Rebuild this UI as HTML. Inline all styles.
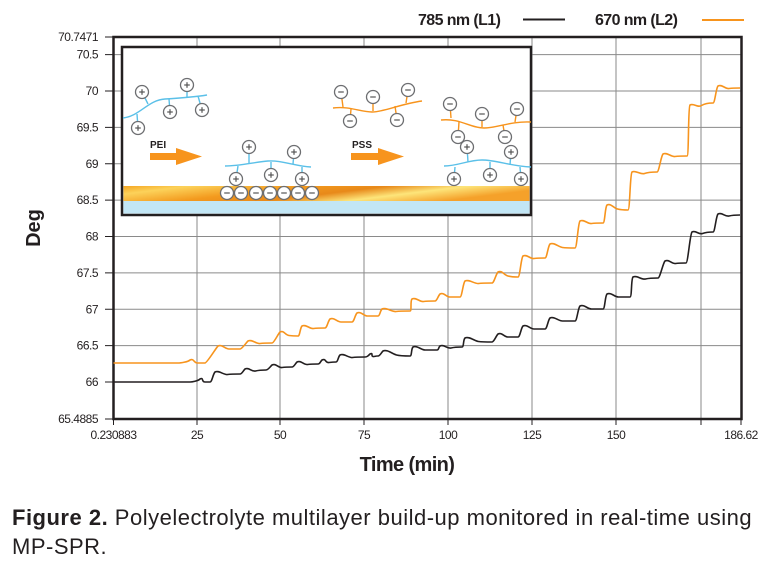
<!DOCTYPE html>
<html><head><meta charset="utf-8">
<style>
body{margin:0;background:#fff;width:775px;height:569px;overflow:hidden;font-family:"Liberation Sans",sans-serif;}
svg{position:absolute;left:0;top:0}
.cap{position:absolute;left:12px;top:503px;font-size:22px;line-height:29px;color:#231f20;width:775px;letter-spacing:0.5px;white-space:nowrap}
</style></head><body>
<svg width="775" height="569" viewBox="0 0 775 569" id="s">
<defs>
<linearGradient id="gold" x1="0" y1="0" x2="1" y2="0.3">
<stop offset="0" stop-color="#f5a623"/><stop offset="0.15" stop-color="#fcd25a"/><stop offset="0.4" stop-color="#f39a1e"/><stop offset="0.6" stop-color="#e8891a"/><stop offset="0.78" stop-color="#fde57a"/><stop offset="1" stop-color="#f5a12a"/>
</linearGradient>
</defs>
<g stroke="#8a8a8a" stroke-width="1" fill="none" id="grid"></g>
<g font-size="12" fill="#231f20" text-anchor="end" id="ylab" letter-spacing="-0.5"></g>
<g font-size="12" fill="#231f20" text-anchor="middle" id="xlab" letter-spacing="-0.5"></g>
<rect x="113.5" y="37" width="628" height="382" fill="none" stroke="#231f20" stroke-width="2.5"/>
<path id="orange" fill="none" stroke="#f7941d" stroke-width="1.6"/>
<path id="black" fill="none" stroke="#231f20" stroke-width="1.6"/>
<rect x="122" y="47" width="409" height="168" fill="#fff" stroke="#231f20" stroke-width="2.5"/>
<rect x="123.5" y="186" width="406" height="15" fill="url(#gold)"/>
<rect x="123.5" y="201" width="406" height="12.5" fill="#c2e6f5"/>
<g id="inset" stroke-width="1.4" fill="none"></g>
<text x="150" y="148" font-size="10" font-weight="bold" fill="#231f20">PEI</text>
<text x="352" y="148" font-size="10" font-weight="bold" fill="#231f20">PSS</text>
<polygon points="150,153 176,153 176,148 202,156.5 176,165 176,160 150,160" fill="#f7941d"/>
<polygon points="351,153 378,153 378,148 404,156.5 378,165 378,160 351,160" fill="#f7941d"/>
<text x="418" y="25" font-size="16" font-weight="bold" fill="#231f20" letter-spacing="-0.6">785 nm (L1)</text>
<line x1="523" y1="19.5" x2="565" y2="19.5" stroke="#231f20" stroke-width="2"/>
<text x="595" y="25" font-size="16" font-weight="bold" fill="#231f20" letter-spacing="-0.6">670 nm (L2)</text>
<line x1="702" y1="20" x2="744" y2="20" stroke="#f7941d" stroke-width="2"/>
<text x="407" y="471" font-size="20" font-weight="bold" fill="#231f20" text-anchor="middle" letter-spacing="-0.6">Time (min)</text>
<text transform="translate(40,228) rotate(-90)" font-size="20" font-weight="bold" fill="#231f20" text-anchor="middle">Deg</text>
</svg>
<div class="cap"><b>Figure 2.</b> Polyelectrolyte multilayer build-up monitored in real-time using<br>MP-SPR.</div>
<script>
const NS="http://www.w3.org/2000/svg";
function el(p,t,a,txt){const e=document.createElementNS(NS,t);for(const k in a)e.setAttribute(k,a[k]);if(txt!==undefined)e.textContent=txt;p.appendChild(e);return e;}
const grid=document.getElementById('grid'),yl=document.getElementById('ylab'),xl=document.getElementById('xlab');
const Y=v=>382-(v-66)*72.75;
[66.5,67,67.5,68,68.5,69,69.5,70,70.5].forEach(v=>el(grid,'line',{x1:113,x2:741,y1:Y(v),y2:Y(v)}));
[197,280,364,448,532,616,701].forEach(x=>el(grid,'line',{x1:x,x2:x,y1:37,y2:419}));
[[70.7471,37],[70.5,Y(70.5)],[70,Y(70)],[69.5,Y(69.5)],[69,Y(69)],[68.5,Y(68.5)],[68,Y(68)],[67.5,Y(67.5)],[67,Y(67)],[66.5,Y(66.5)],[66,Y(66)],[65.4885,419]].forEach(a=>{
 el(yl,'text',{x:98,y:a[1]+4},String(a[0]));el(grid,'line',{x1:105,x2:113,y1:a[1],y2:a[1],stroke:'#231f20'});});
[['0.230883',113.5],['25',197],['50',280],['75',364],['100',448],['125',532],['150',616],['186.62',741]].forEach(a=>el(xl,'text',{x:a[1],y:439},a[0]));
[113.5,197,280,364,448,532,616,701,741].forEach(x=>el(grid,'line',{x1:x,x2:x,y1:419,y2:425,stroke:'#231f20'}));
function series(pl){let d=`M${pl[0][0]},${pl[0][1]} L${pl[0][2]},${pl[0][3]}`;
 for(let i=1;i<pl.length;i++){const [xs,ys,xe,ye]=pl[i];const pe=pl[i-1];const px=pe[2],py=pe[3];
  d+=` C${px+2},${py} ${xs-2},${ys+1} ${xs},${ys-1}`;
  const m=(xs+xe)/2;d+=` C${xs+4},${ys-3} ${m-4},${ys+2} ${m},${(ys+ye)/2+1} S${xe-3},${ye} ${xe},${ye}`;}
 return d;}
const blk=[[113.5,382,190,382],[200,380,210,382],[215,373,240,374],[245,370,266,370],[272,366,292,367],[297,363,318,364],[322,361,336,362],[340,356,365,357],[370,355,378,356],[383,352,410,356],[413,348,437,350],[440,347,462,347],[465,339,492,342],[498,335,518,337],[523,327,545,329],[550,319,575,321],[580,307,603,309],[607,295,630,297],[633,278,658,278],[665,262,686,263],[692,233,713,232],[718,215,740,215]];
const org=[[113.5,363,178,363],[190,361,205,363],[218,347,240,349],[248,342,272,343],[280,333,298,336],[302,327,325,328],[330,320,352,322],[357,314,378,316],[382,310,410,311],[412,300,435,301],[440,295,460,297],[465,282,492,283],[498,273,518,277],[523,257,545,258],[550,245,575,248],[580,222,603,223],[607,206,628,210],[632,173,657,172],[663,155,687,156],[690,106,713,103],[718,87,740,88]];
document.getElementById('black').setAttribute('d',series(blk));
document.getElementById('orange').setAttribute('d',series(org));
const ins=document.getElementById('inset');
const BL='#5bc0e8',OR='#f7941d';
function chain(d,c){el(ins,'path',{d:d,stroke:c});}
function ion(x,y,sign,ax,ay,c){if(ax!==undefined)el(ins,'line',{x1:x,y1:y,x2:ax,y2:ay,stroke:c});
 el(ins,'circle',{cx:x,cy:y,r:6.5,fill:'#fff',stroke:'#6d6e71','stroke-width':1.3});
 el(ins,'line',{x1:x-2.8,y1:y,x2:x+2.8,y2:y,stroke:'#555','stroke-width':1.2});
 if(sign>0)el(ins,'line',{x1:x,y1:y-2.8,x2:x,y2:y+2.8,stroke:'#555','stroke-width':1.2});}
chain('M123,118 C140,116 148,100 165,99 S195,97 207,95',BL);
ion(142,92,1,148,104,BL);ion(187,85,1,187,97,BL);ion(170,112,1,169,99,BL);ion(202,110,1,198,96,BL);ion(138,128,1,137,114,BL);
chain('M225,166 C240,166 255,162 268,161 S295,166 311,167',BL);
ion(249,147,1,249,163,BL);ion(294,152,1,293,164,BL);ion(236,179,1,238,166,BL);ion(271,175,1,271,162,BL);ion(302,179,1,302,167,BL);
[227,241,256,270,284,298,312].forEach(x=>ion(x,193,-1));
chain('M333,108 C350,106 360,112 372,112 S400,104 422,101',OR);
ion(341,92,-1,343,107,OR);ion(373,97,-1,373,111,OR);ion(408,90,-1,406,103,OR);ion(350,121,-1,351,109,OR);ion(397,120,-1,395,106,OR);
chain('M441,120 C460,118 470,128 484,128 S510,121 531,122',OR);
ion(450,104,-1,451,118,OR);ion(482,114,-1,482,127,OR);ion(517,109,-1,515,122,OR);
ion(458,137,-1,459,122,OR);ion(505,137,-1,503,125,OR);
chain('M444,166 C458,166 468,160 482,160 S510,166 531,167',BL);
ion(467,147,1,468,162,BL);ion(511,152,1,510,165,BL);
ion(454,179,1,455,167,BL);ion(490,175,1,490,162,BL);ion(521,179,1,520,167,BL);
</script>
</body></html>
